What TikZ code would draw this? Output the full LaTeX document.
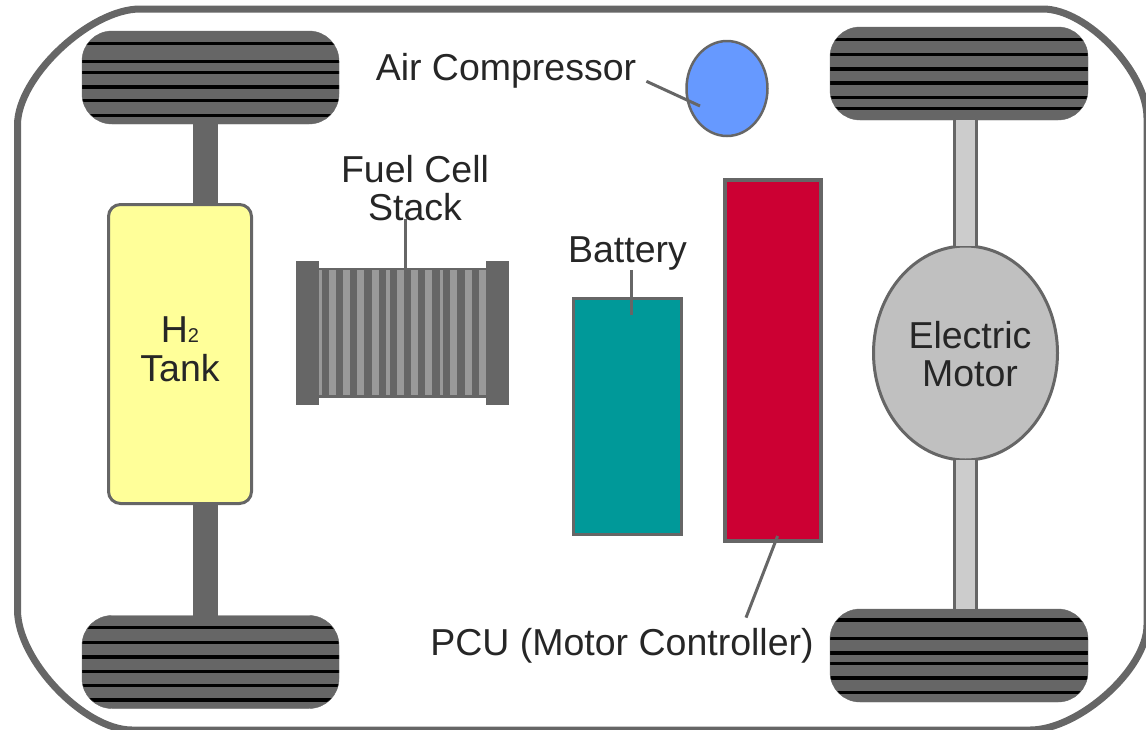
\documentclass[tikz,border=0pt]{standalone}
\usepackage{fontspec}
\setmainfont{Liberation Sans}
\usetikzlibrary{shapes,
                positioning}
\definecolor{chassis}{HTML}{666666}
\definecolor{tread}{HTML}{000000}
\definecolor{tankfill}{HTML}{FFFF99}
\definecolor{batteryfill}{HTML}{009999}
\definecolor{pcufill}{HTML}{CC0033}
\definecolor{compfill}{HTML}{6699FF}
\definecolor{motorfill}{HTML}{C0C0C0}
\definecolor{shaftfill}{HTML}{CCCCCC}
\definecolor{stripefill}{HTML}{999999}
\tikzset{label text/.style=
   {inner sep=0pt,
    anchor=base,
    align=center,
    text=black!85,
    font=\fontsize{37.5}{38}\selectfont}}
\tikzset{part/.style=
   {rectangle,
    draw=chassis,
    outer sep=0pt,
    inner sep=0pt}}
\tikzset{tire/.style=
   {part,
    fill=chassis,
    rounded corners=30pt,
    minimum width=257pt,
    minimum height=93pt,
    path picture={\foreach \y in {#1}
        \draw [tread, line width=3.5pt] (-130,\y) -- (130,\y);}}}
\tikzset{plate/.style=
   {part,
    fill=chassis,
    minimum width=22pt,
    minimum height=143pt}}
\tikzset{leader/.style = {draw=chassis, line width=3pt}}
\tikzset{axle/.style = {draw=chassis, line width=25pt}}
\tikzset{shaft/.style = {draw=chassis, line width=3pt, double=shaftfill, double distance=19pt}}

\begin{document}
\begin{tikzpicture}[x=1pt, y=-1pt]

    \useasboundingbox (0,0) rectangle (1146,729);

    % Car body
    \path [draw=chassis, line width=7pt]
    (140,9) -- (1043,9)
    .. controls (1087,9) and (1147,72) .. (1147,118)
    -- (1147,625)
    .. controls (1147,669) and (1079,730) .. (1030,730)
    -- (132,730)
    .. controls (84,730) and (17.5,660) .. (17.5,610)
    -- (17.5,125)
    .. controls (17.5,77) and (90,9) .. (140,9)
    -- cycle;

    % Wheels
    \node [tire={-33.8,-16.2,-5.2,9.5,23.2,37.8}] (wheelfl) at (210.5,77.5) {};
    \node [tire={-34.3,-19.7,-5.2,9.3,23.3,38}] (wheelrl) at (210.5,662) {};
    \node [tire={-33.8,-19.2,-4.5,9.5,23.8,34.8}, minimum width=258pt] (wheelfr) at (959,73.5) {};
    \node [tire={-35.3,-17,-2.5,8,22.5,37}, minimum width=258pt] (wheelrr) at (959,655.5) {};

    % Blocks
    \node [part, fill=tankfill, line width=3pt, rounded corners=12pt, minimum width=143pt, minimum height=299pt] (tank) at (180,354) {};
    \node [part, fill=chassis, minimum width=168pt, minimum height=129pt,
           path picture={\foreach \a/\b in {-84/-80,-73/-66,-59/-52,-45/-38,-30/-23,-16/-12,-5/2,9/16,23/30,38/41,48/55,63/70,77/84}
               \fill [stripefill] (\a,-63) rectangle (\b,62);}] (stack) at (402,332.5) {};
    \node [plate, left=0pt of stack] (plateleft) {};
    \node [plate, right=0pt of stack] (plateright) {};
    \node [part, fill=batteryfill, line width=3pt, minimum width=108.5pt, minimum height=236.5pt] (battery) at (627.3,416.7) {};
    \node [part, fill=pcufill, line width=4pt, minimum width=96pt, minimum height=361pt] (pcu) at (772.6,360.5) {};
    \node [part, ellipse, fill=compfill, line width=2.5pt, minimum width=81pt, minimum height=95pt] (compressor) at (727,88.5) {};
    \node [part, ellipse, fill=motorfill, line width=3pt, minimum width=184pt, minimum height=214pt] (motor) at (965.5,353) {};

    % Labels
    \node [label text] (tanklabel) at (180,381.5) {H{\fontsize{20}{20}\selectfont 2}\\[1.5pt]Tank};
    \node [label text] (stacklabel) at (415,220) {Fuel Cell\\Stack};
    \node [label text] (batterylabel) at (627.5,262) {Battery};
    \node [label text] (complabel) at (506,80) {Air Compressor};
    \node [label text] (pculabel) at (622,655) {PCU (Motor Controller)};
    \node [label text] (motorlabel) at (970,386) {Electric\\Motor};

    % Draw axles
    \coordinate (axleleft) at (205.4,0);

    \path [axle]
    (wheelfl.south -| axleleft) -- (tank.north -| axleleft);

    \path [axle]
    (tank.south -| axleleft) -- (wheelrl.north -| axleleft);

    \path [shaft]
    (wheelfr.south -| motor.north) -- (motor.north);

    \path [shaft]
    (motor.south) -- (wheelrr.north -| motor.south);

    % Draw leaders
    \coordinate (stacktip) at (405,268);
    \coordinate (batterytip) at (631,315);
    \coordinate (comptip) at (700,106);

    \path [leader]
    ([yshift=2pt]stacklabel.south -| stacktip) -- (stacktip);

    \path [leader]
    (batterylabel.south -| batterytip) -- (batterytip);

    \path [leader]
    ([shift={(10,11)}]complabel.east) -- (comptip);

    \path [leader]
    ([shift={(5,-5)}]pcu.south) -- ([shift={(124,-10)}]pculabel.north);

\end{tikzpicture}
\end{document}
